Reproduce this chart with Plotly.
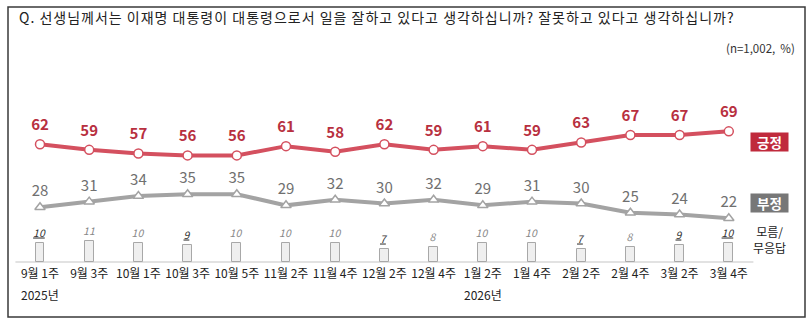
import plotly.graph_objects as go

categories = ["9월 1주", "9월 3주", "10월 1주", "10월 3주", "10월 5주", "11월 2주", "11월 4주",
              "12월 2주", "12월 4주", "1월 2주", "1월 4주", "2월 2주", "2월 4주", "3월 2주", "3월 4주"]
positive = [62, 59, 57, 56, 56, 61, 58, 62, 59, 61, 59, 63, 67, 67, 69]
negative = [28, 31, 34, 35, 35, 29, 32, 30, 32, 29, 31, 30, 25, 24, 22]
unknown = [10, 11, 10, 9, 10, 10, 10, 7, 8, 10, 10, 7, 8, 9, 10]
unknown_underlined = [True, False, False, True, False, False, False, True, False, False, False, True, False, True, True]
year_labels = {"9월 1주": "2025년", "1월 2주": "2026년"}

FONT = "Noto Sans CJK KR, Noto Sans, sans-serif"
RED_LINE = "#d4505f"
RED_TEXT = "#b8303f"
GRAY_LINE = "#a3a3a3"
GRAY_TEXT = "#707070"

x = list(range(len(categories)))

unk_text = []
for v, u in zip(unknown, unknown_underlined):
    if u:
        unk_text.append(f"<span style='color:#333'><i><u>{v}</u></i></span>")
    else:
        unk_text.append(f"<i>{v}</i>")

fig = go.Figure()

fig.add_trace(go.Bar(
    x=x, y=unknown, yaxis="y2", width=0.18,
    marker=dict(color="#efefef", line=dict(color="#a8a8a8", width=1)),
    text=unk_text, textposition="outside", cliponaxis=False, constraintext="none",
    textfont=dict(family=FONT, size=10.5, color="#888"),
    hoverinfo="skip", showlegend=False,
))

fig.add_trace(go.Scatter(
    x=x, y=negative, mode="lines+markers",
    line=dict(color=GRAY_LINE, width=4),
    marker=dict(symbol="triangle-up", size=9, color="white", line=dict(color=GRAY_LINE, width=1.5)),
    showlegend=False, hoverinfo="skip",
))
fig.add_trace(go.Scatter(
    x=x, y=negative, mode="markers+text",
    marker=dict(size=10, color="rgba(0,0,0,0)"),
    text=[str(v) for v in negative], textposition="top center",
    textfont=dict(family=FONT, size=15, color=GRAY_TEXT),
    cliponaxis=False, showlegend=False, hoverinfo="skip",
))

fig.add_trace(go.Scatter(
    x=x, y=positive, mode="lines+markers",
    line=dict(color=RED_LINE, width=4),
    marker=dict(symbol="circle", size=9, color="white", line=dict(color=RED_LINE, width=1.5)),
    showlegend=False, hoverinfo="skip",
))
fig.add_trace(go.Scatter(
    x=x, y=positive, mode="markers+text",
    marker=dict(size=15, color="rgba(0,0,0,0)"),
    text=[f"<b>{v}</b>" for v in positive], textposition="top center",
    textfont=dict(family=FONT, size=15, color=RED_TEXT),
    cliponaxis=False, showlegend=False, hoverinfo="skip",
))

W, H = 812, 322
PLOT_H = 262

annotations = [
    dict(text="<span style='letter-spacing:1px'>Q. 선생님께서는 이재명 대통령이 대통령으로서 일을 잘하고 있다고 생각하십니까? 잘못하고 있다고 생각하십니까?</span>",
         xref="paper", yref="paper", x=17 / W, y=1 - 17 / PLOT_H, xanchor="left", yanchor="middle",
         showarrow=False, font=dict(family=FONT, size=14, color="#222")),
    dict(text="(n=1,002,  %)", xref="paper", yref="paper", x=797 / W, y=1 - 48 / PLOT_H,
         xanchor="right", yanchor="middle", showarrow=False, font=dict(family=FONT, size=11.5, color="#333")),
    dict(text="<b>긍정</b>", xref="paper", yref="paper", x=769 / W, y=1 - 142 / PLOT_H,
         xanchor="center", yanchor="middle", showarrow=False, bgcolor="#c02a3c", borderpad=0,
         width=37, height=18, font=dict(family=FONT, size=13.5, color="white")),
    dict(text="<b>부정</b>", xref="paper", yref="paper", x=769 / W, y=1 - 203 / PLOT_H,
         xanchor="center", yanchor="middle", showarrow=False, bgcolor="#777777", borderpad=0,
         width=37, height=18, font=dict(family=FONT, size=13.5, color="white")),
    dict(text="모름/<br>무응답", xref="paper", yref="paper", x=769 / W, y=1 - 239 / PLOT_H,
         xanchor="center", yanchor="middle", showarrow=False,
         font=dict(family=FONT, size=12, color="#222")),
]
for cat, yl in year_labels.items():
    annotations.append(dict(text=yl, xref="x", yref="paper", x=categories.index(cat), y=0,
                            yanchor="middle", yshift=-32, showarrow=False,
                            font=dict(family=FONT, size=12, color="#222")))

shapes = [
    dict(type="rect", xref="paper", yref="paper", x0=8 / W, x1=805 / W,
         y0=1 - 317 / PLOT_H, y1=1 - 7 / PLOT_H, line=dict(color="#3a3a3a", width=1.5), layer="below"),
    dict(type="line", xref="x", yref="paper", x0=-0.5, x1=14.5, y0=0, y1=0,
         line=dict(color="#d9d9d9", width=1.5), layer="below"),
]

px_per_cat = 49.2
x0 = -40 / px_per_cat
x1 = x0 + W / px_per_cat

fig.update_layout(
    width=W, height=H,
    margin=dict(l=0, r=0, t=0, b=H - PLOT_H),
    paper_bgcolor="white", plot_bgcolor="white",
    xaxis=dict(range=[x0, x1], tickmode="array", tickvals=x, ticktext=categories,
               showgrid=False, zeroline=False, showline=False, ticks="", ticklabelstandoff=3,
               tickfont=dict(family=FONT, size=12, color="#222"), fixedrange=True),
    yaxis=dict(range=[-3 / 1.85, 259 / 1.85], visible=False, fixedrange=True),
    yaxis2=dict(range=[0, PLOT_H / 1.9], overlaying="y", visible=False, fixedrange=True),
    annotations=annotations, shapes=shapes,
    bargap=0, showlegend=False,
)

fig.write_html("out.html")
